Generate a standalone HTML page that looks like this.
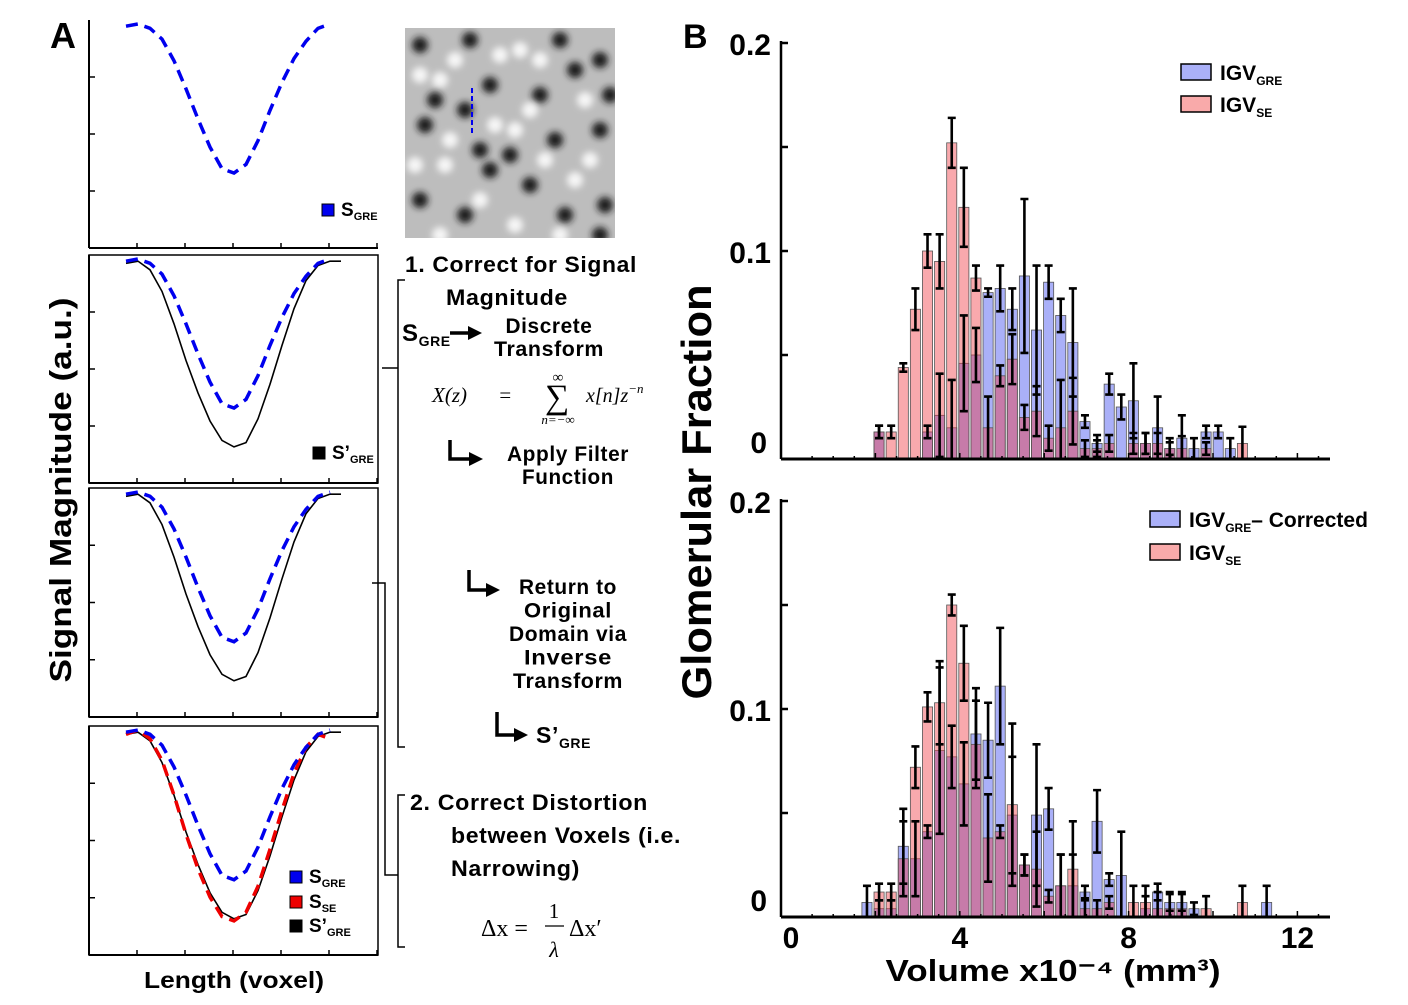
<!DOCTYPE html>
<html><head><meta charset="utf-8"><style>
body{margin:0;background:#fff}
svg text{font-family:"Liberation Sans",sans-serif;font-weight:bold;fill:#000}
.serif{font-family:"Liberation Serif",serif;font-weight:normal;font-style:italic}
.st{letter-spacing:0.6px}
</style></head><body>
<svg id="fig" width="1408" height="1000" viewBox="0 0 1408 1000" xmlns="http://www.w3.org/2000/svg">
<defs><filter id="bl" x="-50%" y="-50%" width="200%" height="200%"><feGaussianBlur stdDeviation="3.5"/></filter>
<clipPath id="imgclip"><rect x="405" y="28" width="210" height="210"/></clipPath></defs>
<g id="panelA"></g>
<g id="panelB"></g>
</svg>
<script>
// ---- Panel A profile samples (normalized signal 0..1) ----
const profX = [0,1,2,3,4,5,6,7,8,9,10,11,12,13,14,15,16,17];
const sGre = [0.99,1.0,0.98,0.93,0.83,0.70,0.56,0.43,0.33,0.31,0.35,0.46,0.60,0.73,0.84,0.92,0.98,1.0];
const sGreCorr = [0.98,0.99,0.95,0.85,0.70,0.53,0.38,0.25,0.16,0.13,0.15,0.26,0.42,0.60,0.77,0.90,0.97,0.99];
const sSe = [0.98,1.0,0.96,0.86,0.70,0.52,0.36,0.23,0.14,0.12,0.16,0.28,0.45,0.63,0.80,0.92,0.98,0.96];
// ---- Panel B histogram data ----
const binStart = 1.8, binWidth = 0.287;
const xTicks = [0,4,8,12];
const yTicks = [0,0.1,0.2];
const gre1 = [0,0.013,0,0,0,0.013,0.021,0.015,0.046,0.050,0.080,0.082,0.072,0.088,0.062,0.085,0.069,0.056,0.018,0.0075,0.036,0.025,0.028,0.0075,0.015,0.005,0.010,0.005,0.013,0.013,0.005,0,0,0];
const se1 = [0,0.013,0.013,0.044,0.072,0.100,0.095,0.152,0.121,0.087,0.015,0.040,0.048,0.020,0.023,0.010,0.015,0.023,0.005,0.005,0.0075,0,0.0075,0.0075,0.0075,0.005,0.005,0,0.005,0,0,0.0075,0,0];
const errGre1 = [0,.003,0,0,0,.003,.020,.023,.023,.013,.002,.011,.010,.037,.031,.008,.008,.026,.003,.004,.005,.006,.018,.005,.015,.005,.011,.005,.003,.003,.005,0,0,0];
const errSe1 = [0,.003,.003,.002,.010,.008,.013,.012,.019,.006,.015,.005,.012,.006,.012,.006,.023,.016,.004,.004,.004,0,.005,.005,.005,.003,.006,0,.003,0,0,.008,0,0];
const gre2 = [0.007,0.004,0.004,0.034,0.028,0.041,0.080,0.077,0.064,0.088,0.085,0.111,0.049,0.025,0.049,0.052,0.015,0.015,0.012,0.046,0.018,0.020,0,0.004,0.012,0.007,0.007,0.004,0,0,0,0,0,0.007];
const se2 = [0,0.012,0.012,0.028,0.072,0.101,0.103,0.150,0.122,0.083,0.038,0.041,0.054,0.025,0.023,0.010,0.015,0.023,0.004,0.004,0.007,0,0.007,0.007,0.004,0.004,0.004,0,0.004,0,0,0.007,0,0];
const errGre2 = [.008,.004,.004,.018,.018,.003,.040,.015,.020,.022,.018,.028,.028,.005,.034,.010,.015,.015,.003,.015,.003,.021,0,.006,.004,.004,.004,.003,0,0,0,0,0,.008];
const errSe2 = [0,.004,.004,.018,.010,.007,.020,.005,.018,.021,.021,.003,.039,.005,.018,.003,.015,.023,.004,.004,.003,0,.008,.008,.008,.008,.008,0,.006,0,0,.008,0,0];

const NS='http://www.w3.org/2000/svg';
function mk(parent,tag,attrs,text){const e=document.createElementNS(NS,tag);for(const k in attrs)e.setAttribute(k,attrs[k]);if(text!==undefined)e.textContent=text;parent.appendChild(e);return e;}
const A=document.getElementById('panelA'), B=document.getElementById('panelB');

// ----- Panel A -----
let t=mk(A,'text',{x:50,y:48,'font-size':36},'A');


const boxes=[{top:20,bot:248,full:false},{top:255,bot:483,full:true},{top:488,bot:717,full:true},{top:726,bot:955,full:true}];
const px=i=>126+i*12;
boxes.forEach((b,bi)=>{
  const g=mk(A,'g',{});
  
  
  if(b.full) mk(g,'rect',{x:89,y:b.top,width:289,height:b.bot-b.top,fill:'none',stroke:'#000','stroke-width':1.5});
  mk(g,'line',{x1:89,y1:b.top,x2:89,y2:b.bot,stroke:'#000','stroke-width':2});
  mk(g,'line',{x1:89,y1:b.bot,x2:378,y2:b.bot,stroke:'#000','stroke-width':2});
  for(let k=1;k<=3;k++){const y=b.bot-k*(b.bot-b.top)/4;mk(g,'line',{x1:89,y1:y,x2:95,y2:y,stroke:'#000','stroke-width':1.5});}
  for(let k=1;k<=6;k++){const x=89+k*48;mk(g,'line',{x1:x,y1:b.bot,x2:x,y2:b.bot-5,stroke:'#000','stroke-width':1.5});}
  const yy=v=>b.bot-8-v*(b.bot-b.top-12);
  const path=arr=>arr.map((v,i)=>(i?'L':'M')+px(profX[i])+','+yy(v)).join(' ');
  if(bi>0){const p=mk(g,'path',{d:path(sGreCorr)+' L341,'+yy(0.99),fill:'none',stroke:'#000','stroke-width':1.6});
    }
  if(bi===3){const p=mk(g,'path',{d:path(sSe),fill:'none',stroke:'#e00','stroke-width':3.5,'stroke-dasharray':'12,7'});
    }
  const p=mk(g,'path',{d:path(sGre),fill:'none',stroke:'#0000ee','stroke-width':3.5,'stroke-dasharray':'12,7'});
  
});
function legA(x,y,col,main,sub){
  const g=mk(A,'g',{});
  
  
  mk(g,'rect',{x:x,y:y-12,width:12,height:12,fill:col,stroke:'#000','stroke-width':1});
  const tx=mk(g,'text',{x:x+19,y:y,'font-size':19},main);
  mk(tx,'tspan',{'font-size':11,dy:4},sub);
}
legA(322,216,'#0000ee','S','GRE');
legA(313,459,'#000','S’','GRE');
legA(290,883,'#0000ee','S','GRE');
legA(290,908,'#e00','S','SE');
legA(290,932,'#000','S’','GRE');
t=mk(A,'text',{x:0,y:0,'font-size':31,'text-anchor':'middle',textLength:385,lengthAdjust:'spacingAndGlyphs',transform:'translate(71,490) rotate(-90)'},'Signal Magnitude (a.u.)');


t=mk(A,'text',{x:234,y:988,'font-size':23,'text-anchor':'middle',textLength:180,lengthAdjust:'spacingAndGlyphs'},'Length (voxel)');



// texture image
const im=mk(A,'g',{'clip-path':'url(#imgclip)'});


mk(im,'rect',{x:405,y:28,width:210,height:210,fill:'#bdbdbd'});
const blobs=[[420,45,1],[470,40,1],[520,50,0],[560,40,1],[600,60,1],[440,80,0],[490,85,1],[540,95,1],[585,100,0],[425,125,1],[465,110,1],[515,130,0],[555,140,1],[600,130,1],[445,165,0],[490,170,1],[530,185,1],[575,180,0],[420,200,1],[465,215,1],[515,225,0],[565,215,1],[605,205,1],[450,140,0],[500,55,0],[590,160,0],[480,200,0],[540,60,0],[415,165,0],[610,95,1],[435,100,1],[575,70,1],[510,155,1],[455,60,0],[530,110,0],[495,125,0],[420,75,0],[560,235,0],[440,235,0],[600,235,1],[545,160,0],[480,150,1]];
blobs.forEach(b=>mk(im,'circle',{cx:b[0],cy:b[1],r:b[2]?8:8,fill:b[2]?'#1a1a1a':'#f6f6f6',filter:'url(#bl)'}));
mk(im,'line',{x1:472,y1:88,x2:472,y2:136,stroke:'#0000ee','stroke-width':2,'stroke-dasharray':'5,3'});

// text steps
function T(x,y,s,size,anchor,name,len){const at={x:x,y:y,'font-size':size||22,'text-anchor':anchor||'start',class:'st'};
  if(len){at.textLength=len;at.lengthAdjust='spacingAndGlyphs';}
  const e=mk(A,'text',at,s);
  return e;}
T(405,272,'1. Correct for Signal',22,'start','step-1-title',232);
T(507,305,'Magnitude',22,'middle','step-1-title-cont',122);
let sg=T(402,341,'S',24,'start','s-gre-label');mk(sg,'tspan',{'font-size':14,dy:5},'GRE');
mk(A,'path',{d:'M450,333 L470,333',stroke:'#000','stroke-width':3.5});
mk(A,'path',{d:'M468,326 L482,333 L468,340 Z',fill:'#000'});
T(549,333,'Discrete',21,'middle',null,87);T(549,356,'Transform',21,'middle',null,110);
const f=mk(A,'g',{});


mk(f,'text',{x:432,y:402,'font-size':21,class:'serif'},'X(z)');
mk(f,'text',{x:498,y:402,'font-size':21,class:'serif'},'=');
mk(f,'text',{x:545,y:408,'font-size':34,class:'serif',style:'font-style:normal'},'∑');
mk(f,'text',{x:558,y:382,'font-size':15,class:'serif','text-anchor':'middle'},'∞');
mk(f,'text',{x:558,y:424,'font-size':13,class:'serif','text-anchor':'middle'},'n=−∞');
const xe=mk(f,'text',{x:586,y:402,'font-size':20,class:'serif'},'x[n]z');
mk(xe,'tspan',{'font-size':13,dy:-9},'−n');
function Larrow(x,y1,y2,x2,name){const g=mk(A,'g',{});
  mk(g,'path',{d:`M${x},${y1} L${x},${y2} L${x2-12},${y2}`,fill:'none',stroke:'#000','stroke-width':3.5});
  mk(g,'path',{d:`M${x2-14},${y2-7} L${x2},${y2} L${x2-14},${y2+7} Z`,fill:'#000'});}
Larrow(450,440,459,483,'arrow-filter');
T(568,461,'Apply Filter',21,'middle',null,122);T(568,484,'Function',21,'middle',null,92);
Larrow(469,570,590,500,'arrow-inverse');
[['Return to',98],['Original',88],['Domain via',118],['Inverse',88],['Transform',110]].forEach((s,i)=>T(568,594+i*23.5,s[0],21,'middle',null,s[1]));
Larrow(497,712,735,528,'arrow-output');
sg=T(536,743,'S’',23,'start','s-gre-corrected-label');mk(sg,'tspan',{'font-size':14,dy:5},'GRE');
T(410,810,'2. Correct Distortion',22,'start','step-2-title',238);
T(451,843,'between Voxels (i.e.',22,'start',null,230);T(451,876,'Narrowing)',22,'start',null,129);
const f2=mk(A,'g',{});


mk(f2,'text',{x:481,y:936,'font-size':24,class:'serif',style:'font-style:normal'},'Δx =');
mk(f2,'text',{x:554,y:918,'font-size':21,class:'serif',style:'font-style:normal','text-anchor':'middle'},'1');
mk(f2,'line',{x1:545,y1:926,x2:564,y2:926,stroke:'#000','stroke-width':1.2});
mk(f2,'text',{x:554,y:957,'font-size':22,class:'serif','text-anchor':'middle'},'λ');
mk(f2,'text',{x:569,y:936,'font-size':24,class:'serif',style:'font-style:normal'},'Δx′');
// brackets
const br=mk(A,'g',{});


[['M405,280 L398,280 L398,747 L405,747'],['M382,368 L398,368'],['M372,583 L385,583 L385,875 L398,875'],['M405,795 L398,795 L398,947 L405,947']].forEach(d=>mk(br,'path',{d:d[0],fill:'none',stroke:'#000','stroke-width':1.5}));

// ----- Panel B -----
t=mk(B,'text',{x:683,y:48,'font-size':34},'B');


t=mk(B,'text',{x:0,y:0,'font-size':42,'text-anchor':'middle',textLength:415,lengthAdjust:'spacingAndGlyphs',transform:'translate(711,492) rotate(-90)'},'Glomerular Fraction');


const X=v=>791+v*42.2;
function hist(base,gre,se,eg,es,leg,label,idx){
  const Y=v=>base-v*2080;
  const g=mk(B,'g',{});
  
  
  const bw=binWidth*42.2;
  gre.forEach((v,i)=>{if(v<=0)return;const cx=X(binStart+i*binWidth);
    const r=mk(g,'rect',{x:cx-bw/2+1,y:Y(v),width:bw-2,height:base-Y(v),fill:'#aab0f8',stroke:'#555','stroke-width':0.8});
    
    });
  se.forEach((v,i)=>{if(v<=0)return;const cx=X(binStart+i*binWidth);
    const r=mk(g,'rect',{x:cx-bw/2+1,y:Y(v),width:bw-2,height:base-Y(v),fill:'rgba(240,50,60,0.42)',stroke:'#555','stroke-width':0.8});
    
    });
  function eb(vals,errs,name){vals.forEach((v,i)=>{const e=errs[i];if(!e||v<=0)return;const cx=X(binStart+i*binWidth);
    const p=mk(g,'path',{d:`M${cx},${Y(v+e)} L${cx},${Y(Math.max(0,v-e))} M${cx-4},${Y(v+e)} L${cx+4},${Y(v+e)} M${cx-4},${Y(Math.max(0,v-e))} L${cx+4},${Y(Math.max(0,v-e))}`,stroke:'#000','stroke-width':2.6,fill:'none'});
    
    });}
  eb(gre,eg,'error-bar-gre');eb(se,es,'error-bar-se');
  mk(g,'line',{x1:781,y1:Y(0.2)-2,x2:781,y2:base,stroke:'#000','stroke-width':2.5});
  mk(g,'line',{x1:781,y1:base,x2:1330,y2:base,stroke:'#000','stroke-width':3});
  for(let k=1;k<=4;k++)mk(g,'line',{x1:781,y1:Y(k*0.05),x2:788,y2:Y(k*0.05),stroke:'#000','stroke-width':2.5});
  for(let v=0.5;v<12.9;v+=0.5)mk(g,'line',{x1:X(v),y1:base,x2:X(v),y2:base-(v%2===0?6:3),stroke:'#000','stroke-width':1.5});
  yTicks.forEach(v=>{const e=mk(g,'text',{x:v===0?767:771,y:v===0?Y(v)-6:Y(v)+12,'font-size':30,'text-anchor':'end'},v===0?'0':v.toFixed(1));
    });
  leg.forEach((l,k)=>{const lg=mk(g,'g',{});
    const ly=l.y;mk(lg,'rect',{x:l.x,y:ly-16,width:30,height:16,fill:l.c,stroke:'#000','stroke-width':1.5});
    const tx=mk(lg,'text',{x:l.x+39,y:ly,'font-size':21},'IGV');mk(tx,'tspan',{'font-size':12,dy:5},l.s);
    if(l.extra)mk(tx,'tspan',{'font-size':21,dy:-5},l.extra);});
}
hist(459,gre1,se1,errGre1,errSe1,[{x:1181,y:80,c:'#aab0f8',s:'GRE'},{x:1181,y:112,c:'#f9aaaa',s:'SE'}],'top',1);
hist(917,gre2,se2,errGre2,errSe2,[{x:1150,y:527,c:'#aab0f8',s:'GRE',extra:'– Corrected'},{x:1150,y:560,c:'#f9aaaa',s:'SE'}],'bottom',2);
xTicks.forEach(v=>{const e=mk(B,'text',{x:X(v),y:948,'font-size':30,'text-anchor':'middle'},String(v));
  });
t=mk(B,'text',{x:1053,y:981,'font-size':31,'text-anchor':'middle',textLength:335,lengthAdjust:'spacingAndGlyphs'},'Volume x10⁻⁴ (mm³)');


</script>
</body></html>
